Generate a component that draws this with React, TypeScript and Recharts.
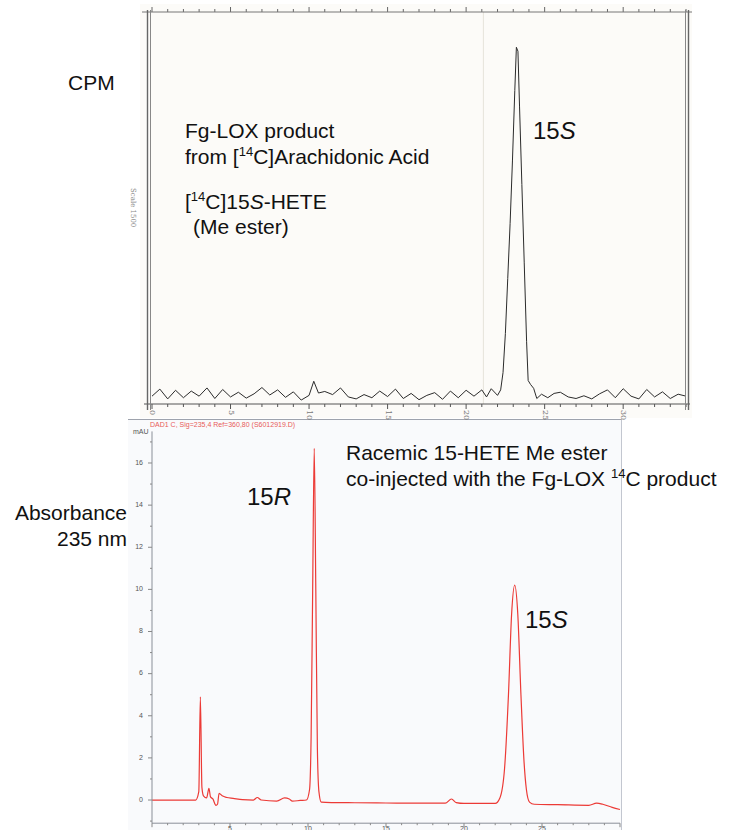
import { LineChart, Line, XAxis, YAxis, ReferenceLine } from "recharts";

// top trace: radio detector, CPM vs minutes
const cpmTime = [
  0, 0.5, 1, 1.5, 2, 2.5, 3, 3.5, 4, 4.5, 5, 5.5, 6, 6.5, 7, 7.5, 8, 8.5, 9, 9.5,
  10, 10.3, 10.6, 11, 11.5, 12, 12.5, 13, 13.5, 14, 14.5, 15, 15.5, 16, 16.5, 17,
  17.5, 18, 18.5, 19, 19.5, 20, 20.5, 21, 21.3, 21.6, 22, 22.2, 22.35, 22.5, 22.65,
  22.8, 22.95, 23.1, 23.2, 23.3, 23.4, 23.55, 23.7, 23.85, 23.95, 24.1, 24.3, 24.5,
  24.8, 25.2, 25.6, 26, 26.5, 27, 27.5, 28, 28.5, 29, 29.5, 30, 30.5, 31, 31.5, 32,
  32.5, 33, 33.5, 34,
];
const cpmCounts = [
  2.0, 3.8, 1.3, 3.5, 1.6, 3.3, 2.0, 4.1, 1.4, 3.7, 1.8, 3.0, 1.5, 2.6, 4.2, 2.3, 3.6, 1.7, 3.1, 1.0,
  2.2, 5.8, 2.8, 3.2, 2.4, 4.1, 1.8, 1.3, 2.4, 1.6, 3.3, 1.9, 3.8, 1.4, 2.7, 1.1,
  2.2, 2.9, 1.2, 3.3, 1.6, 3.5, 2.0, 3.6, 1.8, 3.9, 2.2, 3.6, 8, 18, 32,
  46, 62, 80, 91, 90, 76, 56, 36, 16, 6, 5, 4, 1.4,
  2.5, 1.6, 2.7, 3.0, 1.8, 1.4, 2.1, 1.3, 2.6, 3.6, 1.6, 3.9, 2.0, 1.3, 3.7, 1.8,
  3.1, 1.4, 2.5, 2.0,
];

// bottom trace: UV 235 nm, mAU vs minutes
const uvTime = [
  0, 1, 2, 2.8, 3.0, 3.1, 3.2, 3.3, 3.5, 3.65, 3.75, 3.9, 4.1, 4.2, 4.3, 4.5, 4.8,
  5.2, 5.8, 6.5, 6.75, 7.0, 8.0, 8.5, 8.8, 9.0, 9.5, 9.9, 10.1, 10.2, 10.3, 10.4,
  10.5, 10.6, 10.7, 10.85, 11.5, 13, 15, 17, 18.8, 19.2, 19.5, 20, 22, 22.3, 22.6,
  22.85, 23.05, 23.25, 23.45, 23.65, 23.85, 24.0, 24.2, 24.5, 26, 28, 28.5, 28.9,
  29.5, 30,
];
const uvMau = [
  0, 0, 0, 0, 0.4, 4.9, 0.6, 0.2, 0.1, 0.55, 0.15, 0.05, -0.25, -0.2, 0.32, 0.2, 0.12,
  0.08, 0.02, 0, 0.12, 0, -0.05, 0.1, 0.05, -0.05, -0.02, 0, 0.5, 3, 10, 16.7,
  10, 2.5, 0.4, -0.1, -0.12, -0.13, -0.14, -0.15, -0.15, 0.05, -0.12, -0.16, -0.16, 0.1, 1.5,
  5, 8.8, 10.2, 8.8, 5, 1.8, 0.5, -0.1, -0.2, -0.22, -0.25, -0.15, -0.2,
  -0.35, -0.45,
];

const cpmTicks = Array.from({ length: 35 }, (_, i) => i);
const uvXTicks = Array.from({ length: 31 }, (_, i) => i);
const uvYTicks = Array.from({ length: 19 }, (_, i) => i - 1);

const cpmData = cpmTime.map((t, i) => ({ t, cpm: cpmCounts[i] }));
const uvData = uvTime.map((t, i) => ({ t, mau: uvMau[i] }));

const SANS = "Liberation Sans, Arial, Helvetica, sans-serif";

const CpmBottomTick = ({ x, y, payload }: any) => {
  const major = payload.value % 5 === 0;
  return (
    <g>
      <line x1={x} x2={x} y1={y} y2={y + (major ? 5 : 3)} stroke="#555" />
      {major && (
        <text
          x={x}
          y={y + 6}
          transform={`rotate(90 ${x} ${y + 6})`}
          fontSize={8}
          fontFamily="DejaVu Serif, serif"
          fill="#777"
          dominantBaseline="middle"
        >
          {payload.value}
        </text>
      )}
    </g>
  );
};

const CpmTopTick = ({ x, y, payload }: any) => {
  const major = payload.value % 5 === 0;
  return <line x1={x} x2={x} y1={y} y2={y - (major ? 5 : 3)} stroke="#666" />;
};

const UvXTick = ({ x, y, payload }: any) => {
  const v = payload.value;
  const major = v % 5 === 0;
  return (
    <g>
      <line x1={x} x2={x} y1={y} y2={y + (major ? 4 : 2)} stroke="#888" />
      {major && v > 0 && v < 30 && (
        <text x={x} y={y + 6} textAnchor="middle" dominantBaseline="middle" fontSize={7} fill="#555" fontFamily={SANS}>
          {v}
        </text>
      )}
    </g>
  );
};

const UvYTick = ({ x, y, payload }: any) => {
  const v = payload.value;
  const major = v % 2 === 0;
  return (
    <g>
      <line x1={x} x2={x - (major ? 4 : 2)} y1={y} y2={y} stroke="#888" />
      {major && v >= 0 && (
        <text x={x - 9} y={y} textAnchor="end" dominantBaseline="middle" fontSize={7} fill="#555" fontFamily={SANS}>
          {v}
        </text>
      )}
    </g>
  );
};

export default function App() {
  return (
    <div style={{ position: "absolute", left: 0, top: 0, width: 734, height: 830, background: "#fff", overflow: "hidden" }}>
      {/* paper backgrounds */}
      <div style={{ position: "absolute", left: 140, top: 4, width: 552, height: 414, background: "#fcfbf8" }} />
      <div
        style={{
          position: "absolute",
          left: 128,
          top: 419,
          width: 494,
          height: 411,
          background: "#f9fafc",
          borderTop: "1px solid #9ea3ad",
          borderRight: "1px solid #c3c7d0",
          boxSizing: "border-box",
        }}
      />

      <div style={{ position: "absolute", left: 0, top: 0 }}>
        <LineChart width={734} height={420} data={cpmData} margin={{ top: 0, right: 48, bottom: 0, left: 152 }}>
          <XAxis
            xAxisId="top"
            orientation="top"
            type="number"
            dataKey="t"
            domain={[0, 34]}
            ticks={cpmTicks}
            interval={0}
            height={12}
            axisLine={false}
            tickLine={false}
            tickSize={0}
            tickMargin={0}
            tick={<CpmTopTick />}
          />
          <XAxis
            type="number"
            dataKey="t"
            domain={[0, 34]}
            ticks={cpmTicks}
            interval={0}
            height={16}
            axisLine={false}
            tickLine={false}
            tickSize={0}
            tickMargin={0}
            tick={<CpmBottomTick />}
          />
          <YAxis hide domain={[0, 100]} />
          <ReferenceLine x={21.1} stroke="#e6e3da" strokeWidth={1} />
          <Line type="linear" dataKey="cpm" stroke="#2b2b2b" strokeWidth={1} dot={false} isAnimationActive={false} />
        </LineChart>
      </div>

      <div style={{ position: "absolute", left: 0, top: 420 }}>
        <LineChart width={734} height={410} data={uvData} margin={{ top: 11.4, right: 114, bottom: 0, left: 0 }}>
          <XAxis
            type="number"
            dataKey="t"
            domain={[0, 30]}
            ticks={uvXTicks}
            interval={0}
            height={6.8}
            stroke="#8a8f98"
            tickLine={false}
            tickSize={0}
            tickMargin={0}
            tick={<UvXTick />}
          />
          <YAxis
            type="number"
            domain={[-1.1, 17.5]}
            ticks={uvYTicks}
            interval={0}
            width={152}
            stroke="#8a8f98"
            tickLine={false}
            tickSize={0}
            tickMargin={0}
            tick={<UvYTick />}
          />
          <Line type="monotone" dataKey="mau" stroke="#ec3a36" strokeWidth={1.2} dot={false} isAnimationActive={false} />
        </LineChart>
      </div>

      <svg width={734} height={830} style={{ position: "absolute", left: 0, top: 0, pointerEvents: "none" }}>
        {/* recorder frame */}
        <line x1={142} x2={692} y1={12} y2={12} stroke="#777" strokeWidth={1} />
        <line x1={144} x2={690} y1={404} y2={404} stroke="#555" strokeWidth={1} />
        <line x1={147.5} x2={147.5} y1={10} y2={410} stroke="#666" strokeWidth={1.4} />
        <line x1={150.5} x2={150.5} y1={10} y2={410} stroke="#888" strokeWidth={1} />
        <line x1={685.5} x2={685.5} y1={10} y2={410} stroke="#888" strokeWidth={1} />
        <line x1={688.5} x2={688.5} y1={10} y2={410} stroke="#666" strokeWidth={1.4} />
        <text x={131} y={188} transform="rotate(90 131 188)" fontSize={7} fontFamily="DejaVu Serif, serif" fill="#888">
          Scale 1500
        </text>

        <g fontFamily={SANS} fill="#111">
          <text x={68} y={90} fontSize={21}>CPM</text>
          <text x={185} y={138} fontSize={21}>Fg-LOX product</text>
          <text x={185} y={164} fontSize={21}>
            <tspan>from [</tspan>
            <tspan dy={-8} fontSize={13}>14</tspan>
            <tspan dy={8}>C]Arachidonic Acid</tspan>
          </text>
          <text x={185} y={209} fontSize={21}>
            <tspan>[</tspan>
            <tspan dy={-8} fontSize={13}>14</tspan>
            <tspan dy={8}>C]15</tspan>
            <tspan fontStyle="italic">S</tspan>
            <tspan>-HETE</tspan>
          </text>
          <text x={193} y={234} fontSize={21}>(Me ester)</text>
          <text x={533} y={139} fontSize={24}>
            <tspan>15</tspan>
            <tspan fontStyle="italic">S</tspan>
          </text>

          <text x={127} y={520} fontSize={21} textAnchor="end">Absorbance</text>
          <text x={127} y={546} fontSize={21} textAnchor="end">235 nm</text>
          <text x={346} y={460} fontSize={21}>Racemic 15-HETE Me ester</text>
          <text x={346} y={486} fontSize={21}>
            <tspan>co-injected with the Fg-LOX </tspan>
            <tspan dy={-8} fontSize={13}>14</tspan>
            <tspan dy={8}>C product</tspan>
          </text>
          <text x={247} y={505} fontSize={24}>
            <tspan>15</tspan>
            <tspan fontStyle="italic">R</tspan>
          </text>
          <text x={525} y={628} fontSize={24}>
            <tspan>15</tspan>
            <tspan fontStyle="italic">S</tspan>
          </text>
        </g>

        <text x={150} y={427} fontSize={7} fill="#e85a5a" fontFamily={SANS}>
          DAD1 C, Sig=235,4 Ref=360,80 (S6012919.D)
        </text>
        <text x={133} y={434} fontSize={7} fill="#555" fontFamily={SANS}>mAU</text>
      </svg>
    </div>
  );
}
